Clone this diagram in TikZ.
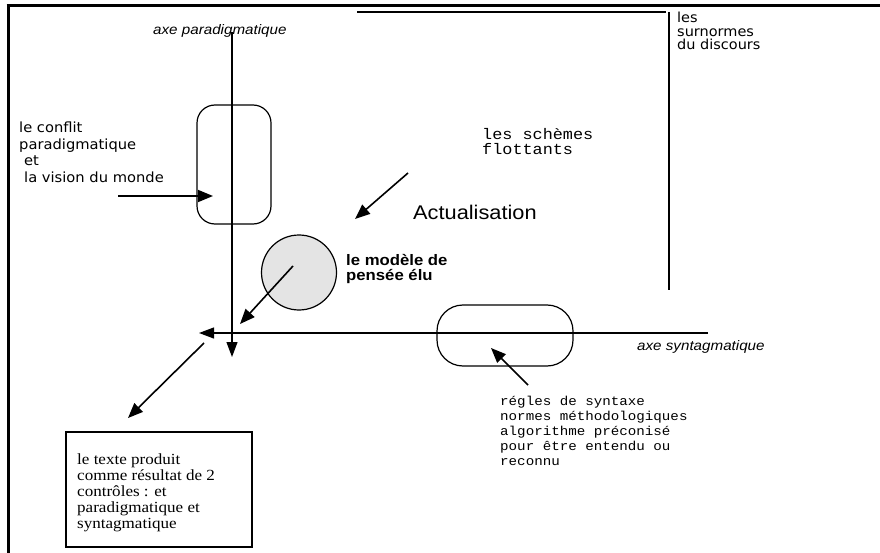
\documentclass[tikz,border=0pt]{standalone}
\usepackage{fontspec}
\usetikzlibrary{arrows.meta}
\newfontfamily\helv[FakeStretch=1.1]{Liberation Sans}
\newfontfamily\genev[FakeStretch=1.05]{DejaVu Sans}
\newfontfamily\cour[FakeStretch=1.1]{Liberation Mono}
\newfontfamily\tms[FakeStretch=1.1]{Liberation Serif}
\definecolor{discgray}{RGB}{228,228,228}
\tikzset{
  frameline/.style={line width=3pt},
  thinline/.style={line width=1.2pt},
  axisline/.style={line width=1.2pt, -{Triangle[length=15pt,width=11pt]}},
  pointer/.style={line width=1.6pt, -{Triangle[length=15pt,width=12pt]}},
  capsule/.style={draw, line width=1.2pt, inner sep=0pt},
  txt/.style={anchor=base west, inner sep=0pt, align=left},
}
\begin{document}
\begin{tikzpicture}[x=1pt,y=-1pt]
\useasboundingbox (0,0) rectangle (880,553);

% outer frame (top and left edges)
\draw[frameline] (6.5,6) -- (880,6);
\draw[frameline] (8,4.5) -- (8,553);

% bracket around the floating schemes
\draw[thinline] (357,12) -- (666,12);
\draw[thinline] (669,12) -- (669,290);

% shapes
\node[capsule, rounded corners=18pt, minimum width=74pt, minimum height=119pt] (paracap) at (234,164.5) {};
\node[capsule, rounded corners=26pt, minimum width=136pt, minimum height=61pt] (syntcap) at (505,335.5) {};
\node[draw, circle, fill=discgray, line width=1.2pt, minimum size=75pt, inner sep=0pt] (model) at (299,272.5) {};
\node[draw, line width=1.2pt, minimum width=186pt, minimum height=115pt, inner sep=0pt] (textbox) at (159,489.5) {};

% axes
\coordinate (ptop) at (232,32);
\coordinate (pbot) at (232,357);
\coordinate (sright) at (708,333);
\coordinate (sleft) at (199,333);
\draw[axisline] (ptop) -- (pbot);
\draw[axisline] (sright) -- (sleft);

% pointers
\coordinate (c1) at (118,196);
\coordinate (c1e) at (213,196);
\draw[pointer] (c1) -- (c1e);

\coordinate (mc) at (293,266);
\coordinate (me) at (240,324);
\draw[pointer] (mc) -- (me);

\coordinate (a1) at (408,173);
\coordinate (a1e) at (355,219);
\draw[pointer] (a1) -- (a1e);

\coordinate (r1) at (528,385);
\coordinate (r1e) at (491,348);
\draw[pointer] (r1) -- (r1e);

\coordinate (o1) at (204,343);
\coordinate (o1e) at (128,418);
\draw[pointer] (o1) -- (o1e);

% labels (base anchor sits on the last line of each block)
\node[txt, font=\helv\itshape\fontsize{13.8}{16}\selectfont] (lpara) at (153,35) {axe paradigmatique};
\node[txt, font=\helv\itshape\fontsize{13.8}{16}\selectfont] (lsynt) at (637,350) {axe syntagmatique};
\node[txt, font=\genev\fontsize{13.8}{13.3}\selectfont] (lsur) at (677,49.6) {les\\surnormes\\du discours};
\node[txt, font=\genev\fontsize{14}{16.5}\selectfont] (lconf) at (19,182.5) {le conflit\\paradigmatique\\\hspace*{5pt}et\\\hspace*{5pt}la vision du monde};
\node[txt, font=\cour\fontsize{15.3}{15}\selectfont] (lsch) at (482,155) {les schèmes\\flottants};
\node[txt, font=\helv\fontsize{19.8}{20}\selectfont] (lact) at (413,220) {Actualisation};
\node[txt, font=\helv\bfseries\fontsize{15.2}{15.5}\selectfont] (lmod) at (346,280.5) {le modèle de\\pensée élu};
\node[txt, font=\cour\fontsize{12.9}{15}\selectfont] (lreg) at (500,465) {régles de syntaxe\\normes méthodologiques\\algorithme préconisé\\pour être entendu ou\\reconnu};
\node[txt, font=\tms\fontsize{15.5}{16}\selectfont] (ltxt) at (77,528) {le texte produit\\comme résultat de 2\\contrôles : et\\paradigmatique et\\syntagmatique};
\end{tikzpicture}
\end{document}
